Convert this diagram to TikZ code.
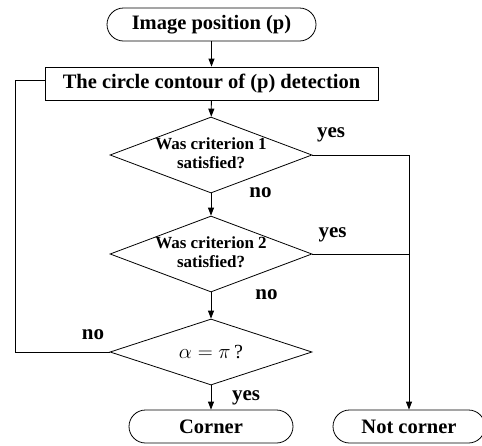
\documentclass[tikz,border=0pt]{standalone}
\usepackage{fontspec}
\setmainfont{Liberation Serif}
\usetikzlibrary{shapes.geometric,arrows.meta}
\newcommand\dtext[2]{\makebox[0pt]{\begin{tabular}{@{}c@{}}#1\\#2\end{tabular}}}
\begin{document}
\begin{tikzpicture}[x=1pt,y=-1pt, line width=0.8pt,
  term/.style={draw, rounded corners=16.5pt, minimum height=33pt, inner sep=0pt,
    font=\fontsize{20.5}{22}\selectfont\bfseries},
  proc/.style={draw, minimum width=333pt, minimum height=33pt, inner sep=0pt,
    font=\fontsize{20.5}{22}\selectfont\bfseries},
  dec/.style={draw, diamond, inner sep=0pt, minimum width=202pt, minimum height=76pt,
    font=\fontsize{17}{19}\selectfont\bfseries},
  lbl/.style={font=\fontsize{21}{22}\selectfont\bfseries, inner sep=0pt, anchor=base},
  arr/.style={-{Triangle[length=8pt,width=6pt]}}]
\useasboundingbox (0,0) rectangle (482,445);
\clip (0,0) rectangle (482,445);
\node[term, minimum width=209pt] (start) at (211.5,24.5) {Image position (p)};
\node[proc] (proc) at (211.5,83.5) {The circle contour of (p) detection};
\node[dec] (d1) at (211,155) {\dtext{Was criterion 1}{satisfied?}};
\node[dec] (d2) at (211,254) {\dtext{Was criterion 2}{satisfied?}};
\node[dec, minimum height=66pt, font=\fontsize{20}{22}\selectfont] (d3) at (211,352) {\makebox[0pt]{$\alpha=\pi\,$?}};
\node[term, minimum width=164pt] (corner) at (211,426.5) {Corner};
\node[term, minimum width=152pt] (notc) at (409,426.5) {Not corner};
\coordinate (lx) at (15,0);
\draw[arr] (start) -- (proc);
\draw[arr] (proc) -- (d1);
\draw[arr] (d1) -- (d2);
\draw[arr] (d2) -- (d3);
\draw[arr] (d3) -- (corner);
\draw[arr] (d1.east) -| (notc.north);
\draw (d2.east) -- (d2.east -| notc.north);
\draw (d3.west) -- (d3.west -| lx) |- ([yshift=3.5pt]proc.west);
\node[lbl] (y1) at (331,137) {yes};
\node[lbl] (n1) at (260.5,197) {no};
\node[lbl] (y2) at (332.5,237) {yes};
\node[lbl] (n2) at (266.5,299) {no};
\node[lbl] (n3) at (93,339) {no};
\node[lbl] (y3) at (246,400) {yes};
\end{tikzpicture}
\end{document}
